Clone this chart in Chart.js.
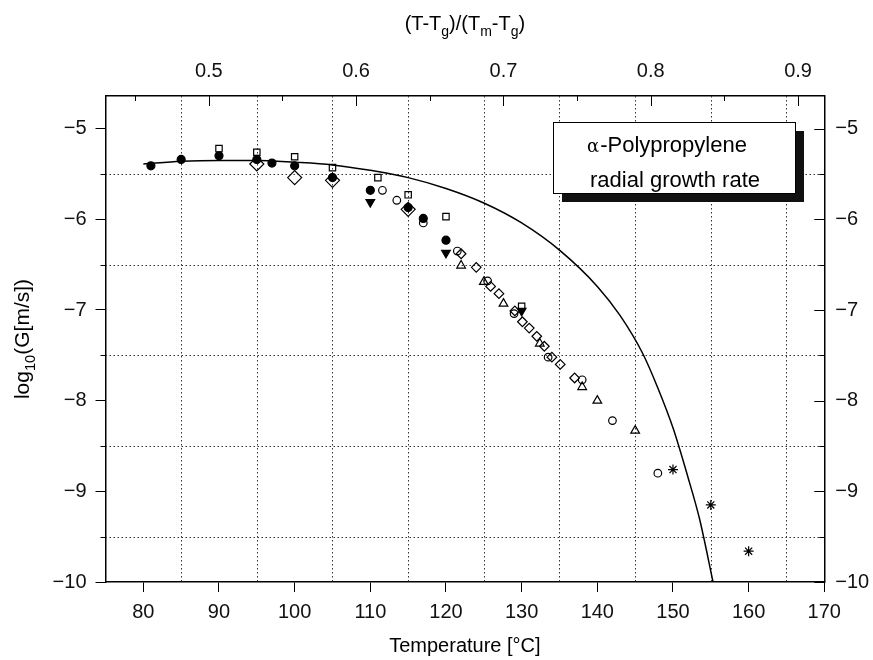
<!DOCTYPE html>
<html>
<head>
<meta charset="utf-8">
<script src="https://cdn.jsdelivr.net/npm/chart.js@4.4.0/dist/chart.umd.min.js"></script>
<style>
  html, body { margin: 0; padding: 0; background: #fff; }
</style>
</head>
<body>
<canvas id="growthChart" width="873" height="660"></canvas>
<script>
// axis ticks
var tempTicks = [80, 90, 100, 110, 120, 130, 140, 150, 160, 170];
var tempGrid = [85, 95, 105, 115, 125, 135, 145, 155, 165];
var logTicks = [-10, -9, -8, -7, -6, -5];
var logMinor = [-9.5, -8.5, -7.5, -6.5, -5.5];
var redTicks = [0.5, 0.6, 0.7, 0.8, 0.9];
var redMinor = [0.45, 0.55, 0.65, 0.75, 0.85];
var Tg = -8.7, Tm = 186.0;

// measured growth rates, log10(G [m/s])
var circT = [81, 85, 90, 95, 97, 100, 105, 110, 115, 117, 120];
var circG = [-5.41, -5.34, -5.30, -5.34, -5.38, -5.41, -5.54, -5.68, -5.87, -5.99, -6.23];
var downT = [110, 120, 130];
var downG = [-5.81, -6.37, -7.01];
var sqT = [90, 95, 100, 105, 111, 115, 120, 130];
var sqG = [-5.22, -5.26, -5.31, -5.43, -5.54, -5.73, -5.97, -6.96];
var bigDiaT = [95, 100, 105, 115];
var bigDiaG = [-5.39, -5.54, -5.57, -5.89];
var openCircT = [111.6, 113.5, 117, 121.5, 125.5, 129, 133.5, 138, 142, 148];
var openCircG = [-5.68, -5.79, -6.04, -6.35, -6.68, -7.04, -7.52, -7.77, -8.22, -8.80];
var triT = [122, 125, 127.6, 132.4, 138, 140, 145];
var triG = [-6.51, -6.69, -6.93, -7.37, -7.85, -8.00, -8.33];
var diaT = [122, 124, 125.9, 127, 129.1, 130.1, 131, 132, 133, 134, 135.1, 137];
var diaG = [-6.38, -6.53, -6.74, -6.82, -7.01, -7.13, -7.20, -7.29, -7.40, -7.52, -7.60, -7.75];
var starT = [150, 155, 160];
var starG = [-8.76, -9.15, -9.66];

// theoretical curve
var fitT = [80, 85, 90, 95, 100, 105, 110, 115, 120, 125, 130, 135, 140, 143, 146, 148, 150, 152, 153.5, 155.3];
var fitG = [-5.39, -5.36, -5.35, -5.35, -5.37, -5.40, -5.46, -5.54, -5.66, -5.82, -6.04, -6.34, -6.74, -7.06, -7.48, -7.86, -8.30, -8.85, -9.30, -10];

var FONT = '"Liberation Sans", Arial, sans-serif';

function pts(xs, ys) {
    return xs.map(function(x, i) { return {x: x, y: ys[i]}; });
}

function minusLabel(v) {
    return v < 0 ? '\u2212' + Math.abs(v) : String(v);
}

function fixedTicks(list) {
    return function(scale) {
        scale.ticks = list.map(function(v) { return {value: v}; });
    };
}

function marker(label, xs, ys, style, radius, filled, rotation) {
    return {
        label: label,
        data: pts(xs, ys),
        pointStyle: style,
        pointRadius: radius,
        pointRotation: rotation || 0,
        pointBorderWidth: 1.2,
        pointBorderColor: '#000',
        pointBackgroundColor: filled ? '#000' : 'rgba(0,0,0,0)',
        showLine: false
    };
}

// draws text made of normal and subscript runs
function drawRuns(c, runs, x, y, size) {
    runs.forEach(function(r) {
        var s = r.sub ? size * 0.7 : size;
        c.font = s + 'px ' + FONT;
        c.fillText(r.t, x, r.sub ? y + size * 0.3 : y);
        x += c.measureText(r.t).width;
    });
}

function runsWidth(c, runs, size) {
    var w = 0;
    runs.forEach(function(r) {
        c.font = (r.sub ? size * 0.7 : size) + 'px ' + FONT;
        w += c.measureText(r.t).width;
    });
    return w;
}

var redMin = (75 - Tg) / (Tm - Tg);
var redMax = (170 - Tg) / (Tm - Tg);

var decor = {
    id: 'decor',
    beforeDatasetsDraw: function(chart) {
        var c = chart.ctx, a = chart.chartArea;
        var x = chart.scales.x, y = chart.scales.y;
        c.save();
        c.strokeStyle = '#333';
        c.lineWidth = 1;
        c.setLineDash([1.5, 2.5]);
        tempGrid.forEach(function(v) {
            var px = Math.round(x.getPixelForValue(v)) + 0.5;
            c.beginPath(); c.moveTo(px, a.top); c.lineTo(px, a.bottom); c.stroke();
        });
        logMinor.forEach(function(v) {
            var py = Math.round(y.getPixelForValue(v)) + 0.5;
            c.beginPath(); c.moveTo(a.left, py); c.lineTo(a.right, py); c.stroke();
        });
        c.restore();
    },
    afterDraw: function(chart) {
        var c = chart.ctx, a = chart.chartArea;
        var y = chart.scales.y, top = chart.scales.xTop;
        c.save();
        c.strokeStyle = '#000';
        c.lineWidth = 1;

        // left minor ticks point outwards, right and top ticks point inwards
        logMinor.forEach(function(v) {
            var py = Math.round(y.getPixelForValue(v)) + 0.5;
            c.beginPath(); c.moveTo(a.left - 5, py); c.lineTo(a.left, py); c.stroke();
            c.beginPath(); c.moveTo(a.right - 5, py); c.lineTo(a.right, py); c.stroke();
        });
        logTicks.forEach(function(v) {
            var py = Math.round(y.getPixelForValue(v)) + 0.5;
            c.beginPath(); c.moveTo(a.right - 10, py); c.lineTo(a.right, py); c.stroke();
        });
        redTicks.forEach(function(v) {
            var px = Math.round(top.getPixelForValue(v)) + 0.5;
            c.beginPath(); c.moveTo(px, a.top); c.lineTo(px, a.top + 10); c.stroke();
        });
        redMinor.forEach(function(v) {
            var px = Math.round(top.getPixelForValue(v)) + 0.5;
            c.beginPath(); c.moveTo(px, a.top); c.lineTo(px, a.top + 5); c.stroke();
        });

        // annotation box with drop shadow
        var bx = 553, by = 122, bw = 242, bh = 71;
        c.fillStyle = '#111';
        c.fillRect(bx + 9, by + 9, bw, bh);
        c.fillStyle = '#fff';
        c.fillRect(bx, by, bw, bh);
        c.strokeStyle = '#000';
        c.strokeRect(bx + 0.5, by + 0.5, bw, bh);
        c.fillStyle = '#000';
        c.textBaseline = 'alphabetic';
        c.textAlign = 'left';
        c.font = '18px "DejaVu Serif", "Liberation Serif", serif';
        c.fillText('\u03b1', 587, 152);
        var aw = c.measureText('\u03b1').width;
        c.font = '22px ' + FONT;
        c.fillText('-Polypropylene', 587 + aw + 1, 152);
        c.fillText('radial growth rate', 590, 187);

        // axis titles
        var cx = (a.left + a.right) / 2;
        c.font = '20px ' + FONT;
        c.textAlign = 'center';
        c.fillText('Temperature [\u00b0C]', cx, 652);

        c.textAlign = 'left';
        var topRuns = [{t: '(T-T'}, {t: 'g', sub: true}, {t: ')/(T'}, {t: 'm', sub: true}, {t: '-T'}, {t: 'g', sub: true}, {t: ')'}];
        var tw = runsWidth(c, topRuns, 20);
        drawRuns(c, topRuns, cx - tw / 2, 30, 20);

        var yRuns = [{t: 'log'}, {t: '10', sub: true}, {t: '(G[m/s])'}];
        var yw = runsWidth(c, yRuns, 21);
        c.translate(29, (a.top + a.bottom) / 2);
        c.rotate(-Math.PI / 2);
        drawRuns(c, yRuns, -yw / 2, 0, 21);
        c.restore();
    }
};

var tickFont = {family: FONT, size: 20};

var datasets = [
    {
        label: 'fit',
        data: pts(fitT, fitG),
        showLine: true,
        borderColor: '#000',
        borderWidth: 1.5,
        pointRadius: 0,
        cubicInterpolationMode: 'monotone'
    },
    marker('filled circles', circT, circG, 'circle', 4, true),
    marker('filled triangles', downT, downG, 'triangle', 5, true, 180),
    marker('open squares', sqT, sqG, 'rect', 4.5, false),
    marker('large diamonds', bigDiaT, bigDiaG, 'rectRot', 7, false),
    marker('open circles', openCircT, openCircG, 'circle', 3.8, false),
    marker('open triangles', triT, triG, 'triangle', 5, false),
    marker('open diamonds', diaT, diaG, 'rectRot', 4.8, false),
    marker('stars', starT, starG, 'star', 5, false)
];

var growthChart = new Chart(document.getElementById('growthChart').getContext('2d'), {
    type: 'scatter',
    data: {datasets: datasets},
    options: {
        responsive: false,
        animation: false,
        devicePixelRatio: 1,
        layout: {padding: 0},
        plugins: {legend: {display: false}, tooltip: {enabled: false}},
        scales: {
            x: {
                type: 'linear', position: 'bottom', min: 75, max: 170,
                afterBuildTicks: fixedTicks(tempTicks),
                afterFit: function(s) { s.height = 78; },
                ticks: {font: tickFont, color: '#111', padding: 8, maxRotation: 0, autoSkip: false},
                grid: {drawOnChartArea: false, drawTicks: true, tickLength: 10, color: '#000'},
                border: {display: true, color: '#000', width: 1.5}
            },
            xTop: {
                type: 'linear', position: 'top', min: redMin, max: redMax,
                afterBuildTicks: fixedTicks(redTicks),
                afterFit: function(s) { s.height = 96; },
                ticks: {font: tickFont, color: '#111', padding: 5, maxRotation: 0, autoSkip: false,
                    callback: function(v) { return v.toFixed(1); }},
                grid: {display: false},
                border: {display: true, color: '#000', width: 1.5}
            },
            y: {
                type: 'linear', position: 'left', min: -10, max: -4.64,
                afterBuildTicks: fixedTicks(logTicks),
                afterFit: function(s) { s.width = 105.5; },
                ticks: {font: tickFont, color: '#111', padding: 9, callback: minusLabel},
                grid: {drawOnChartArea: false, drawTicks: true, tickLength: 10, color: '#000'},
                border: {display: true, color: '#000', width: 1.5}
            },
            yRight: {
                type: 'linear', position: 'right', min: -10, max: -4.64,
                afterBuildTicks: fixedTicks(logTicks),
                afterFit: function(s) { s.width = 48.7; },
                ticks: {font: tickFont, color: '#111', padding: 3, callback: minusLabel},
                grid: {display: false},
                border: {display: true, color: '#000', width: 1.5}
            }
        }
    },
    plugins: [decor]
});
</script>
</body>
</html>
